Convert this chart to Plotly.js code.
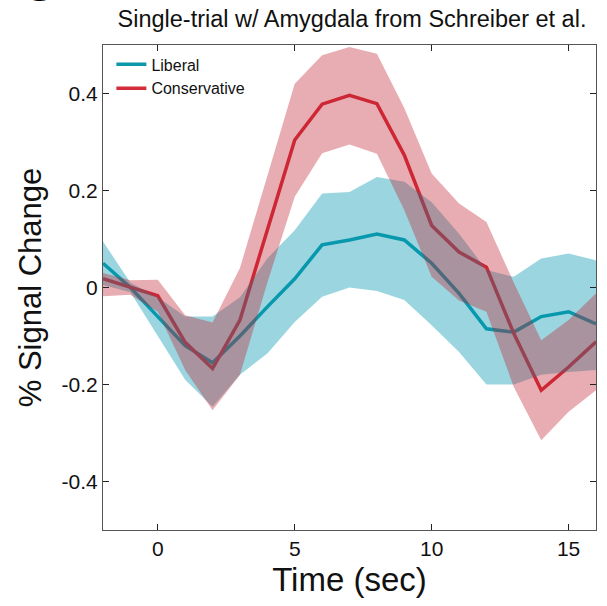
<!DOCTYPE html>
<html>
<head>
<meta charset="utf-8">
<script src="https://cdn.plot.ly/plotly-3.0.1.min.js"></script>
<style>html,body{margin:0;padding:0;background:#fff;}#chart{width:607px;height:606px;}</style>
</head>
<body>
<div id="chart"></div>
<script>
const time = [-2,-1,0,1,2,3,4,5,6,7,8,9,10,11,12,13,14,15,16];

const libMean  = [0.05, 0.0, -0.06, -0.12, -0.155, -0.10, -0.04, 0.018, 0.088, 0.098, 0.11, 0.098, 0.05, -0.012, -0.085, -0.092, -0.06, -0.05, -0.075];
const libUpper = [0.095, 0.01, -0.02, -0.06, -0.06, -0.02, 0.06, 0.118, 0.194, 0.197, 0.228, 0.218, 0.176, 0.111, 0.036, 0.022, 0.06, 0.07, 0.056];
const libLower = [0.005, -0.01, -0.10, -0.19, -0.246, -0.18, -0.136, -0.071, -0.019, 0.0, -0.007, -0.026, -0.078, -0.133, -0.20, -0.20, -0.18, -0.174, -0.17];

const conMean  = [0.018, 0.0, -0.017, -0.113, -0.167, -0.067, 0.12, 0.304, 0.378, 0.396, 0.379, 0.273, 0.128, 0.073, 0.042, -0.095, -0.212, -0.164, -0.112];
const conUpper = [0.03, 0.015, 0.016, -0.057, -0.072, 0.04, 0.23, 0.42, 0.479, 0.496, 0.482, 0.37, 0.235, 0.173, 0.135, 0.01, -0.109, -0.067, -0.012];
const conLower = [-0.018, -0.015, -0.05, -0.17, -0.253, -0.18, 0.01, 0.187, 0.277, 0.295, 0.276, 0.16, 0.022, -0.027, -0.05, -0.205, -0.315, -0.256, -0.212];

const seriesNames = ['Liberal', 'Conservative'];
const xTicks = [0, 5, 10, 15];
const yTicks = [-0.4, -0.2, 0, 0.2, 0.4];
const yTickText = ['-0.4', '-0.2', '0', '0.2', '0.4'];

const FONT = '"Liberation Sans", Arial, Helvetica, sans-serif';
const tealLine = 'rgb(10,152,170)';
const redLine = 'rgb(212,44,58)';
const tealFill = 'rgba(5,152,177,0.40)';
const redFill = 'rgba(193,33,47,0.37)';

function band(upper, lower, color) {
  return {
    x: time.concat(time.slice().reverse()),
    y: upper.concat(lower.slice().reverse()),
    type: 'scatter', mode: 'lines', fill: 'toself',
    fillcolor: color, line: {width: 0}, showlegend: false, hoverinfo: 'skip'
  };
}

const traces = [
  {x: time, y: libMean, type: 'scatter', mode: 'lines', name: seriesNames[0], line: {color: tealLine, width: 3.5}},
  {x: time, y: conMean, type: 'scatter', mode: 'lines', name: seriesNames[1], line: {color: redLine, width: 3.5}},
  band(libUpper, libLower, tealFill),
  band(conUpper, conLower, redFill)
];

const axisCommon = {
  showgrid: false, zeroline: false, showline: true, linecolor: '#555', linewidth: 1,
  mirror: 'ticks', ticks: 'inside', ticklen: 6, tickcolor: '#222', tickwidth: 1.2,
  tickfont: {family: FONT, size: 21, color: '#111'}
};

const layout = {
  width: 607, height: 606,
  margin: {l: 103, r: 11, t: 45, b: 76},
  paper_bgcolor: '#fff', plot_bgcolor: '#fff',
  font: {family: FONT, color: '#111'},
  title: {text: 'Single-trial w/ Amygdala from Schreiber et al.', font: {family: FONT, size: 23.5, color: '#111'},
          x: 352/607, xref: 'container', xanchor: 'center', y: 1 - 19/606, yref: 'container', yanchor: 'middle'},
  xaxis: Object.assign({}, axisCommon, {range: [-2, 16], tickvals: xTicks, ticktext: xTicks.map(String),
          title: {text: 'Time (sec)', font: {family: FONT, size: 33, color: '#111'}, standoff: 8}}),
  yaxis: Object.assign({}, axisCommon, {range: [-0.5, 0.5], tickvals: yTicks, ticktext: yTickText,
          title: {text: '% Signal Change', font: {family: FONT, size: 31, color: '#111'}, standoff: 10}}),
  showlegend: true,
  legend: {x: 0.017, y: 0.995, xanchor: 'left', yanchor: 'top', bgcolor: 'rgba(0,0,0,0)',
           font: {family: FONT, size: 16, color: '#111'}, tracegroupgap: 0},
  annotations: [{text: '<b>C</b>', xref: 'paper', yref: 'paper', x: -0.131, y: 1.066, xanchor: 'center', yanchor: 'bottom',
                 showarrow: false, font: {family: FONT, size: 46, color: '#000'}}]
};

Plotly.newPlot('chart', traces, layout, {displayModeBar: false, staticPlot: true});
</script>
</body>
</html>
